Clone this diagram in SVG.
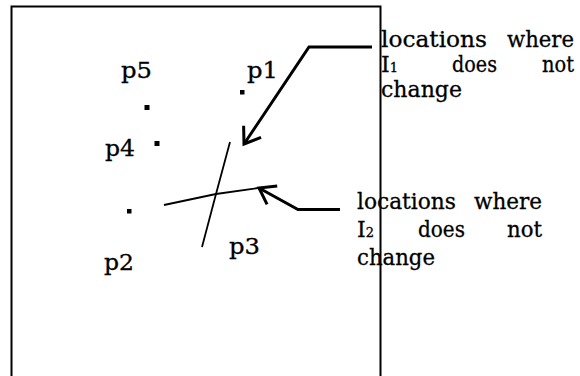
<svg xmlns="http://www.w3.org/2000/svg" width="580" height="376" viewBox="0 0 580 376">
<style>
text{font-family:"DejaVu Serif","Liberation Serif",serif;font-size:22px;fill:#000;stroke:#000;stroke-width:0.3}
.sub{font-size:13px}
.dot{fill:#000}
.frame{fill:none;stroke:#000;stroke-width:2}
.thin{fill:none;stroke:#000;stroke-width:1.8;stroke-linejoin:round}
.arrow{fill:none;stroke:#000;stroke-width:3;stroke-linejoin:miter;marker-end:url(#head)}
</style>
<defs>
<marker id="head" markerUnits="userSpaceOnUse" markerWidth="30" markerHeight="30" viewBox="-20 -15 30 30" refX="0" refY="0" orient="auto" overflow="visible">
<path d="M-15,-10.5 L0,0 L-15,10.5" fill="none" stroke="#000" stroke-width="3"/>
</marker>
</defs>
<rect width="580" height="376" fill="#fff"/>
<path class="frame" d="M11.5,380 V6.5 H380.5 V380"/>
<g id="p1"><rect class="dot" x="240" y="90" width="4.5" height="4.5"/><text x="247" y="78" textLength="31" lengthAdjust="spacingAndGlyphs">p1</text></g>
<g id="p5"><rect class="dot" x="144.5" y="105" width="5" height="5"/><text x="121" y="78" textLength="31" lengthAdjust="spacingAndGlyphs">p5</text></g>
<g id="p4"><rect class="dot" x="154.5" y="141" width="5" height="5"/><text x="105" y="156" textLength="30" lengthAdjust="spacingAndGlyphs">p4</text></g>
<g id="p2"><rect class="dot" x="127" y="209" width="4.5" height="4.5"/><text x="104" y="270" textLength="30" lengthAdjust="spacingAndGlyphs">p2</text></g>
<g id="p3"><text x="229" y="254" textLength="31" lengthAdjust="spacingAndGlyphs">p3</text></g>
<g id="curves">
<polyline class="thin" points="230,142 216,194 202,247"/>
<polyline class="thin" points="164,205 216,194 258,188"/>
</g>
<g id="label1">
<text x="381" y="47" textLength="106" lengthAdjust="spacingAndGlyphs">locations</text>
<text x="507" y="47" textLength="67" lengthAdjust="spacingAndGlyphs">where</text>
<text x="381" y="72">I<tspan class="sub">1</tspan></text>
<text x="452" y="72" textLength="45" lengthAdjust="spacingAndGlyphs">does</text>
<text x="542" y="72" textLength="32" lengthAdjust="spacingAndGlyphs">not</text>
<text x="381" y="97" textLength="81" lengthAdjust="spacingAndGlyphs">change</text>
</g>
<g id="label2">
<text x="357" y="209" textLength="99" lengthAdjust="spacingAndGlyphs">locations</text>
<text x="474" y="209" textLength="68" lengthAdjust="spacingAndGlyphs">where</text>
<text x="357" y="237">I<tspan class="sub">2</tspan></text>
<text x="418" y="237" textLength="47" lengthAdjust="spacingAndGlyphs">does</text>
<text x="507" y="237" textLength="35" lengthAdjust="spacingAndGlyphs">not</text>
<text x="357" y="265" textLength="78" lengthAdjust="spacingAndGlyphs">change</text>
</g>
<g id="connectors">
<polyline class="arrow" points="372,47 309,47 244,144"/>
<polyline class="arrow" points="340,209.5 298,209.5 259,188"/>
</g>
</svg>
